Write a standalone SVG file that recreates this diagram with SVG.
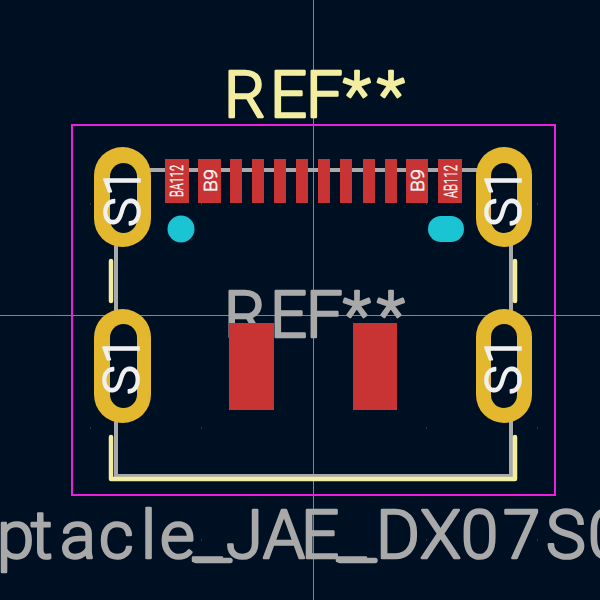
<svg xmlns="http://www.w3.org/2000/svg" width="600" height="600" viewBox="0 0 600 600">
<style>
.t{font-family:Roboto,"Liberation Sans",sans-serif;font-weight:300;stroke-linejoin:round;stroke-linecap:round}
.ref{font-size:65px;stroke-width:2.6px}
.fab{fill:#a9a9a9;stroke:#a9a9a9}
.slk{fill:#f2eda1;stroke:#f2eda1}
.s1{font-size:50px;fill:#f0f0f0;stroke:#f0f0f0;stroke-width:1.6px}
.pl{font-size:19px;fill:#f4f4f4;stroke:#f4f4f4;stroke-width:.6px}
.r{fill:#c83434}
.th{fill:#e3b72e}
.hole{fill:#001023}
.gray{fill:none;stroke:#a9a9a9;stroke-width:4}
.silk{fill:none;stroke:#f2eda1;stroke-width:4.5;stroke-linecap:round;stroke-linejoin:round}
.np{fill:#1ac4d2}
</style>
<rect width="600" height="600" fill="#001023"/>
<path d="M90 204h1M201 204h1M426 204h1M537 204h1M90 428h1M201 428h1M426 428h1M537 428h1M90 540h1M201 540h1M426 540h1M537 540h1" stroke="#46525f" stroke-width="1" fill="none"/>
<g id="crosshair" stroke="#848484" stroke-width="1"><path d="M313.5 0V600M0 315.5H600"/></g>
<g id="fab"><path class="gray" d="M116 240V476H511V240M130 170H500"/></g>
<g id="texts">
<text class="t ref fab" x="224 270 306 343 377" y="337">REF**</text>
<text class="t ref slk" x="224 270 306 343 377" y="117">REF**</text>
<text class="t fab" style="font-size:67px;stroke-width:2.6px" x="-3 31 60 99 141 160 193 226 263 301 337 376 420 461 503 546 588" y="558">ptacle_JAE_DX07S0</text>
<path d="M196 560.5H230M340 560.5H375" stroke="#a9a9a9" stroke-width="5.5" stroke-linecap="round" fill="none"/>
</g>
<g id="pads-smd">
<rect class="r" x="165" y="159" width="24" height="44"/>
<rect class="r" x="198" y="159" width="23" height="44"/>
<rect class="r" x="230" y="159" width="12" height="44"/>
<rect class="r" x="252" y="159" width="12" height="44"/>
<rect class="r" x="274" y="159" width="12" height="44"/>
<rect class="r" x="296" y="159" width="12" height="44"/>
<rect class="r" x="318" y="159" width="12" height="44"/>
<rect class="r" x="340" y="159" width="12" height="44"/>
<rect class="r" x="363" y="159" width="12" height="44"/>
<rect class="r" x="385" y="159" width="12" height="44"/>
<rect class="r" x="406" y="159" width="22" height="44"/>
<rect class="r" x="438" y="159" width="24" height="44"/>
<rect class="r" x="229" y="323" width="45" height="87"/>
<rect class="r" x="353" y="323" width="44" height="87"/>
</g>
<g id="pad-labels">
<text class="t pl" transform="translate(183 197) rotate(-90)" textLength="32" lengthAdjust="spacingAndGlyphs">BA112</text>
<text class="t pl" transform="translate(217 192) rotate(-90)" textLength="23" lengthAdjust="spacingAndGlyphs">B9</text>
<text class="t pl" transform="translate(424 192) rotate(-90)" textLength="23" lengthAdjust="spacingAndGlyphs">B9</text>
<text class="t pl" transform="translate(457 198) rotate(-90)" textLength="33" lengthAdjust="spacingAndGlyphs">AB112</text>
</g>
<g id="npth">
<circle class="np" cx="181" cy="229" r="13.5"/>
<rect class="np" x="428" y="216" width="36" height="26" rx="13"/>
</g>
<g id="pad-s1-tl"><rect class="th" x="94" y="147" width="57" height="100" rx="28.5"/><rect class="hole" x="110" y="163" width="27" height="70" rx="13.5"/><text class="t s1" transform="translate(139.5 225) rotate(-90)" x="-2 29">S1</text></g>
<g id="pad-s1-tr"><rect class="th" x="476" y="147" width="56" height="100" rx="28"/><rect class="hole" x="491" y="163" width="26" height="70" rx="13"/><text class="t s1" transform="translate(520.5 225) rotate(-90)" x="-2 29">S1</text></g>
<g id="pad-s1-bl"><rect class="th" x="94" y="309" width="57" height="114" rx="28.5"/><rect class="hole" x="110" y="324" width="27" height="84" rx="13.5"/><text class="t s1" transform="translate(139 393) rotate(-90)" x="-2 29">S1</text></g>
<g id="pad-s1-br"><rect class="th" x="476" y="309" width="56" height="114" rx="28"/><rect class="hole" x="491" y="324" width="26" height="84" rx="13"/><text class="t s1" transform="translate(520.5 393) rotate(-90)" x="-2 29">S1</text></g>
<g id="silk"><path class="silk" d="M111 437V479H515V437M111 261V301M515 261V301"/></g>
<g id="courtyard"><rect x="72" y="125" width="483" height="370" fill="none" stroke="#ee1fdc" stroke-width="2"/></g>
</svg>
